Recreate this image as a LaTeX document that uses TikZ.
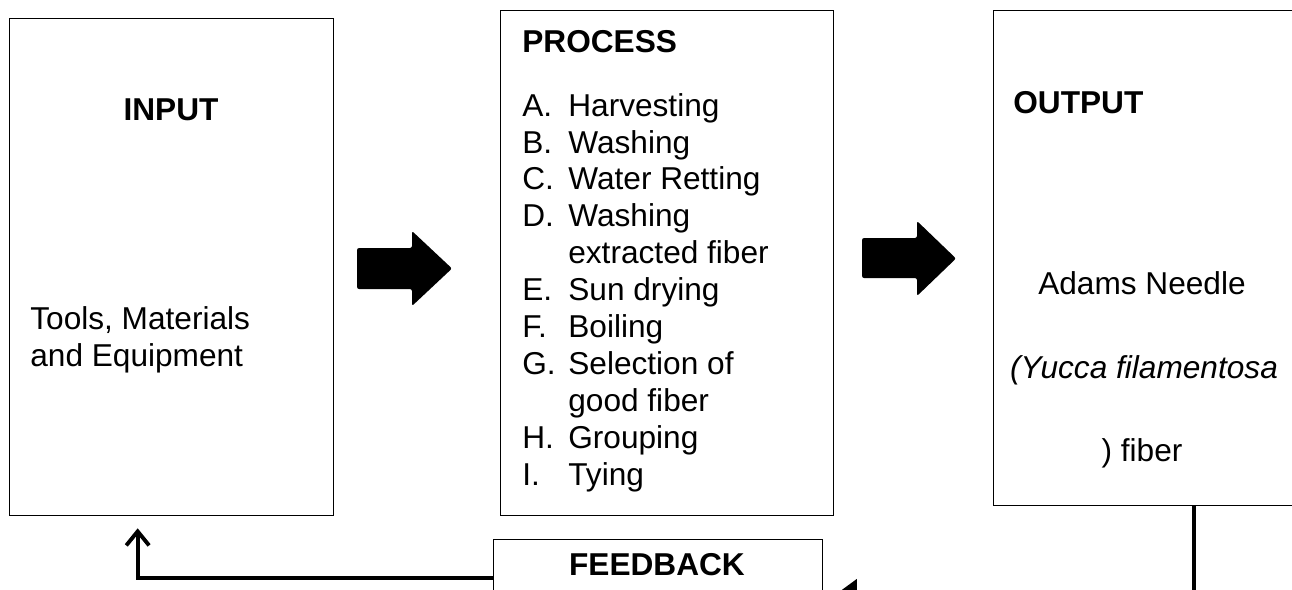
\documentclass[tikz,border=0pt]{standalone}
\usepackage{fontspec}
\setmainfont{Liberation Sans}
\usetikzlibrary{arrows.meta,positioning}

\begin{document}
\begin{tikzpicture}[x=0.02cm,y=-0.02cm,
  font=\fontsize{18}{21}\selectfont,
  box/.style={draw=black,line width=0.8pt,inner sep=0pt,anchor=north west},
  title/.style={font=\fontsize{18}{21}\selectfont\bfseries,inner sep=0pt},
  txt/.style={inner sep=0pt},
  blockarrow/.style={fill=black,rounded corners=1.2pt},
  flow/.style={line width=2.2pt}]
\tikzstyle{every node}+=[inner sep=0pt]
\useasboundingbox (0,0) rectangle (1292,589);
\clip (0,0) rectangle (1292,589);
% boxes
\node [box,minimum width=6.48cm,minimum height=9.94cm] (inp) at (9,18) {};
\node [box,minimum width=6.66cm,minimum height=10.1cm] (proc) at (500,10) {};
\node [box,minimum width=6.1cm,minimum height=9.9cm] (out) at (993,10) {};
\node [box,minimum width=6.58cm,minimum height=1.52cm] (fb) at (493,539) {};
% texts
\node [title] (inptitle) at (171,110) {INPUT};
\node [txt,anchor=west,align=left] (inptext) at (30,340) {Tools, Materials\\and Equipment};
\node [title,anchor=west] (proctitle) at (522,42) {PROCESS};
\node [txt,anchor=north west] (proclist) at (522,90) {%
\begin{tabular}{@{}p{0.92cm}@{}l@{}}
A. & Harvesting\\
B. & Washing\\
C. & Water Retting\\
D. & Washing\\
   & extracted fiber\\
E. & Sun drying\\
F. & Boiling\\
G. & Selection of\\
   & good fiber\\
H. & Grouping\\
I. & Tying
\end{tabular}};
\node [title,anchor=west] (outtitle) at (1013,103) {OUTPUT};
\node [txt] (outa) at (1142,283) {Adams Needle};
\node [txt] (outb) at (1144,370) {\itshape(Yucca filamentosa};
\node [txt] (outc) at (1142,453) {) fiber};
\node [title] (fbtitle) at (657,565) {FEEDBACK};
% block arrows
\fill [blockarrow] (357,248) -- (412,248) -- (412,231) -- (452,268.5) -- (412,306) -- (412,289) -- (357,289) -- cycle;
\fill [blockarrow] (862,238) -- (917,238) -- (917,221) -- (956,258.5) -- (917,296) -- (917,278) -- (862,278) -- cycle;
% feedback loop
\draw [flow,-{Straight Barb[length=8pt,width=13pt]},shorten >=0.24cm] (fb.west) -| ([xshift=-0.68cm]inp.south);
\draw [flow,-{Triangle[length=10pt,width=14pt]},shorten >=0.32cm] ([xshift=0.96cm]out.south) |- ([yshift=-0.28cm]fb.east);
\end{tikzpicture}
\end{document}
